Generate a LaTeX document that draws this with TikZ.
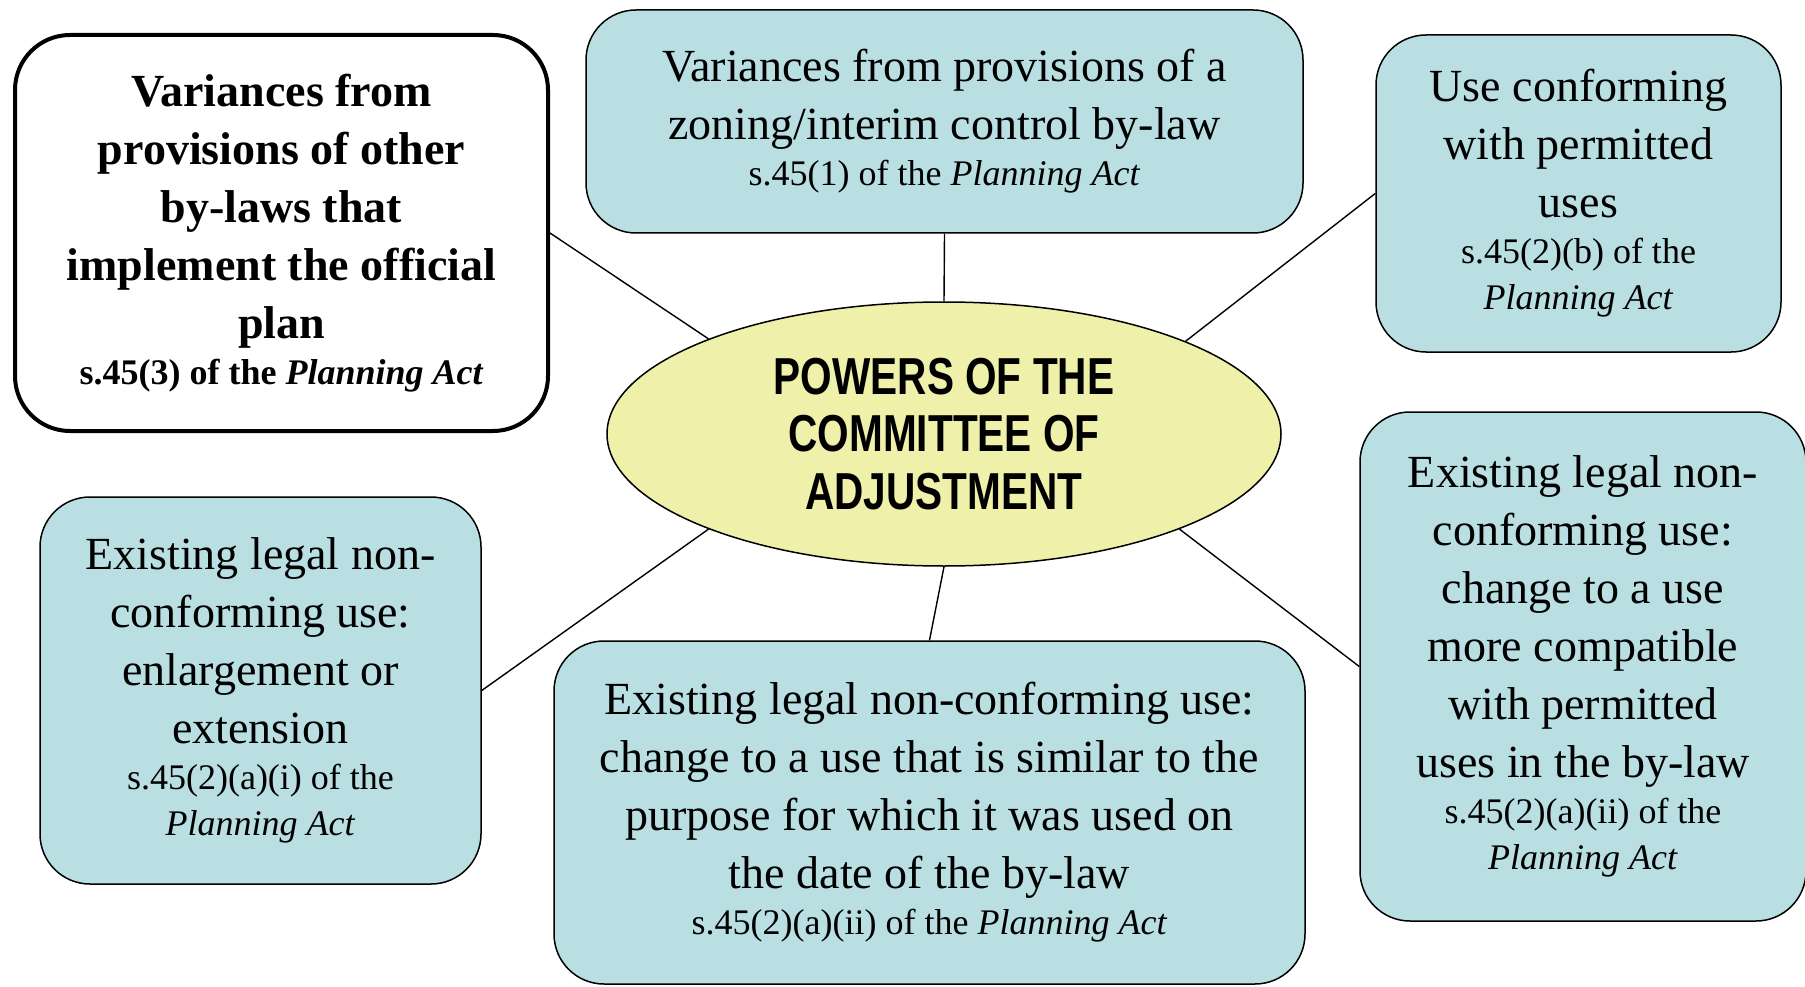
\documentclass[tikz,border=0pt]{standalone}
\usepackage{fontspec}
\setmainfont{Liberation Serif}
\newfontfamily\ellfont[FakeStretch=0.78]{Liberation Sans}
\usetikzlibrary{shapes.geometric}
\definecolor{tealfill}{RGB}{185,223,227}
\definecolor{ellfill}{RGB}{239,240,170}
\newcommand{\fixpar}{\leftskip=0pt plus 1fil\rightskip=0pt plus 1fil\parfillskip=0pt\spaceskip=\fontdimen2\font\xspaceskip=\fontdimen2\font\relax}
\newcommand{\mainsz}{\fontsize{46}{58}\selectfont\fixpar}
\newcommand{\subsz}{\fontsize{36}{46}\selectfont\fixpar}
\tikzset{
  tbox/.style={draw=black, line width=1.5pt, fill=tealfill, rounded corners=50pt, align=center, inner sep=0pt},
  wbox/.style={draw=black, line width=4pt, fill=white, rounded corners=55pt, align=center, inner sep=0pt},
  conn/.style={draw=black, line width=1.4pt},
  hub/.style={ellipse, draw=black, line width=1.5pt, fill=ellfill, inner sep=0pt, align=center,
    font=\ellfont\bfseries\fontsize{52}{57.6}\selectfont}
}
\begin{document}
\begin{tikzpicture}[x=1pt,y=-1pt]
\useasboundingbox (0,0) rectangle (1805,987);
\clip (0,0) rectangle (1805,987);
\fill[white] (0,0) rectangle (1805,987);

\node[hub, minimum width=674pt, minimum height=264pt] (ell) at (944,434)
  {POWERS OF THE\\COMMITTEE OF\\ADJUSTMENT};

\node[wbox, minimum width=533pt, minimum height=396pt, text width=520pt] (tl) at (281.5,233)
  {\bfseries{\mainsz Variances from\\ provisions of other\\ by-laws that\\ implement the official\\ plan\par}{\subsz s.45(3) of the \textit{Planning Act}\par}};

\node[tbox, minimum width=717pt, minimum height=223pt, text width=700pt] (top) at (944.5,121.5)
  {{\mainsz Variances from provisions of a\\ zoning/interim control by-law\par}{\subsz s.45(1) of the \textit{Planning Act}\par}};

\node[tbox, minimum width=405pt, minimum height=317pt, text width=395pt] (tr) at (1578.5,193.5)
  {{\mainsz Use conforming\\ with permitted\\ uses\par}{\subsz s.45(2)(b) of the\\ \textit{Planning Act}\par}};

\node[tbox, minimum width=441pt, minimum height=387pt, text width=430pt] (lb) at (260.5,690.5)
  {{\mainsz Existing legal non-\\ conforming use:\\ enlargement or\\ extension\par}{\subsz s.45(2)(a)(i) of the\\ \textit{Planning Act}\par}};

\node[tbox, minimum width=751pt, minimum height=343pt, text width=740pt] (bot) at (929.5,812.5)
  {{\mainsz Existing legal non-conforming use:\\ change to a use that is similar to the\\ purpose for which it was used on\\ the date of the by-law\par}{\subsz s.45(2)(a)(ii) of the \textit{Planning Act}\par}};

\node[tbox, minimum width=446pt, minimum height=509pt, text width=436pt] (rb) at (1583,666.5)
  {{\mainsz Existing legal non-\\ conforming use:\\ change to a use\\ more compatible\\ with permitted\\ uses in the by-law\par}{\subsz s.45(2)(a)(ii) of the\\ \textit{Planning Act}\par}};

\draw[conn] (ell.158) -- (tl.east);
\draw[conn] (ell.north) -- (top.south);
\draw[conn] (ell.21.5) -- (tr.west);
\draw[conn] (ell.202) -- (lb.east);
\draw[conn] (ell.south) -- (bot.north);
\draw[conn] (ell.338) -- (rb.west);
\end{tikzpicture}
\end{document}
